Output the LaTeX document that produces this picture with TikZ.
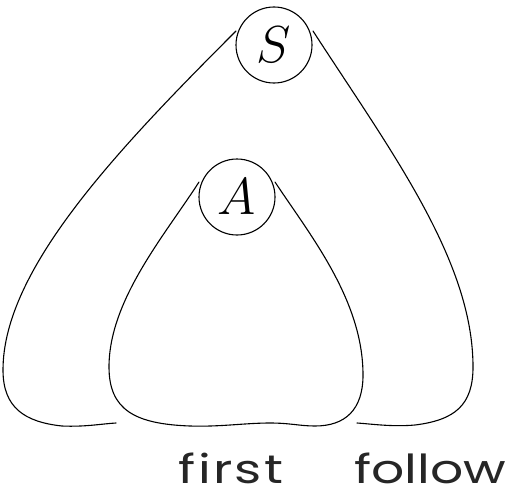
\RequirePackage{fix-cm}
\documentclass[tikz,border=0pt]{standalone}
\usepackage{fontspec}
\newfontfamily\labelfont[FakeStretch=1.3]{Poppins}
\newfontfamily\firstfont[FakeStretch=1.3,LetterSpace=6]{Poppins}
\begin{document}
\begin{tikzpicture}[x=1pt,y=-1pt,
  curve/.style={line width=1.1pt, line cap=round},
  sym/.style={draw, circle, line width=1.1pt, inner sep=0pt, minimum size=76pt,
    font=\fontsize{52}{52}\selectfont},
  lab/.style={anchor=base, inner sep=2pt, font=\labelfont\fontsize{40}{40}\selectfont, text=black!85}]
\useasboundingbox (0,0) rectangle (510,495);
\node[sym] (S) at (274,45) {$S$};
\node[sym] (A) at (237,197) {$A$};
\node[lab, font=\firstfont\fontsize{40}{40}\selectfont] (first) at (231,483) {first};
\node[lab] (follow) at (430,483) {follow};
% outer left
\coordinate (oL0) at (236,31);
\coordinate (oL1) at (116,423);
\draw[curve] (oL0) .. controls (116,151) and (3,270) .. (3,370)
  .. controls (3,408) and (25,422) .. (62,426)
  .. controls (85,427) and (100,424) .. (oL1);
% outer right
\coordinate (oR0) at (313,31);
\coordinate (oR1) at (357,423);
\draw[curve] (oR0) .. controls (390,150) and (473,260) .. (473,367)
  .. controls (473,405) and (455,420) .. (415,425)
  .. controls (392,427) and (372,424) .. (oR1);
% inner
\coordinate (iL0) at (199,182);
\coordinate (iR0) at (275,182);
\draw[curve] (iL0) .. controls (165,235) and (109,300) .. (109,367)
  .. controls (109,410) and (135,424) .. (190,426)
  .. controls (220,427) and (245,423) .. (270,423)
  .. controls (290,423) and (300,426) .. (315,426)
  .. controls (345,426) and (363,410) .. (363,375)
  .. controls (363,300) and (310,235) .. (iR0);
\end{tikzpicture}
\end{document}
